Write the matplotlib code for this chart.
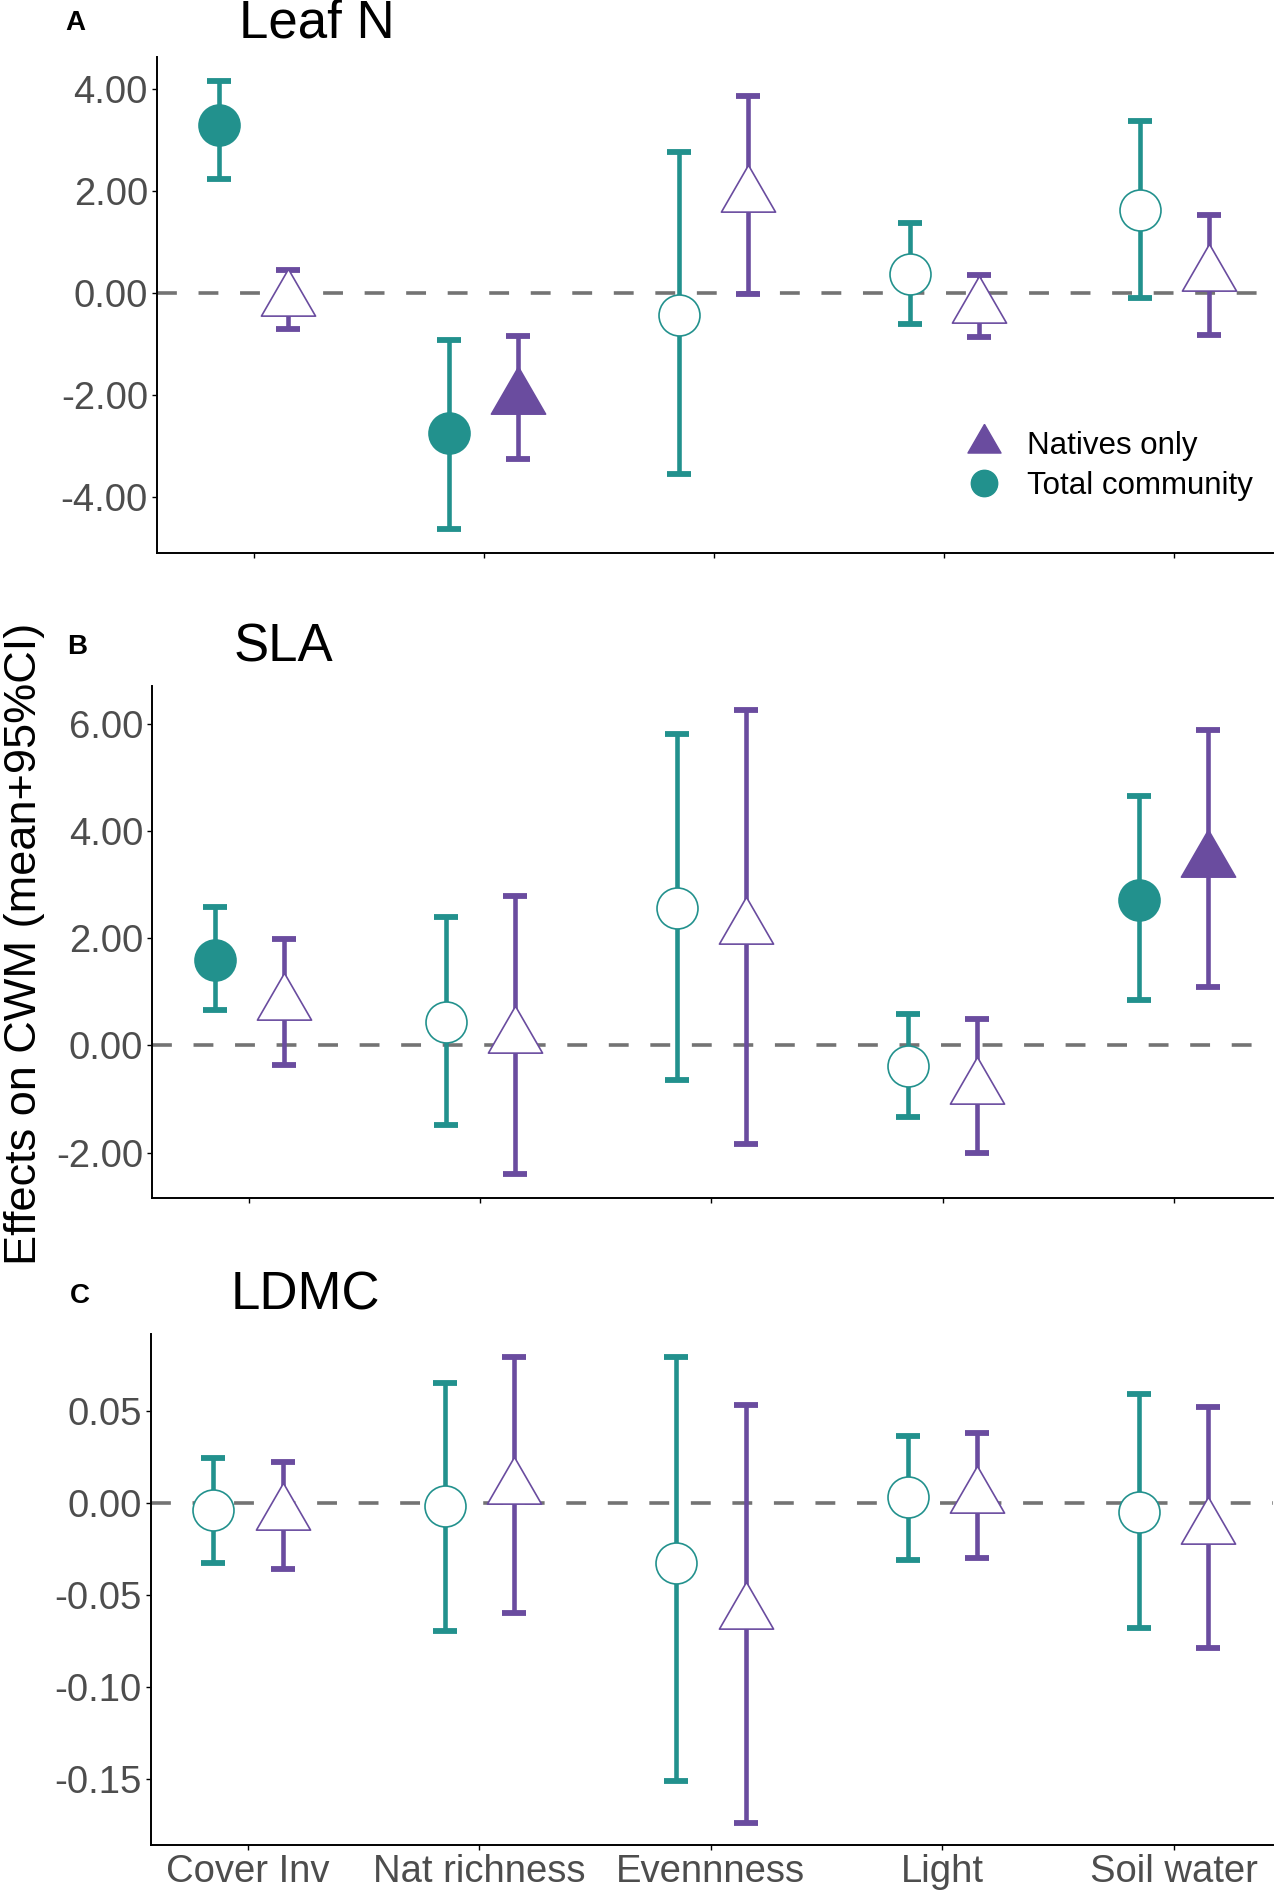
import numpy as np
import matplotlib
matplotlib.use("Agg")
import matplotlib.pyplot as plt
from matplotlib.lines import Line2D

plt.rcParams['font.family'] = ['Liberation Sans', 'DejaVu Sans']

# ---- data ----
categories = ['Cover Inv', 'Nat richness', 'Evennness', 'Light', 'Soil water']

# Leaf N
leafn_tot_mean = [3.28, -2.75, -0.44, 0.37, 1.62]
leafn_tot_lo = [2.23, -4.62, -3.55, -0.60, -0.10]
leafn_tot_hi = [4.14, -0.92, 2.75, 1.36, 3.36]
leafn_tot_sig = [1, 1, 0, 0, 0]
leafn_nat_mean = [-0.13, -2.05, 1.89, -0.28, 0.36]
leafn_nat_lo = [-0.71, -3.26, -0.02, -0.86, -0.82]
leafn_nat_hi = [0.44, -0.84, 3.86, 0.35, 1.52]
leafn_nat_sig = [0, 1, 0, 0, 0]

# SLA
sla_tot_mean = [1.60, 0.43, 2.56, -0.38, 2.71]
sla_tot_lo = [0.66, -1.49, -0.64, -1.34, 0.85]
sla_tot_hi = [2.58, 2.39, 5.81, 0.59, 4.65]
sla_tot_sig = [1, 0, 0, 0, 1]
sla_nat_mean = [0.77, 0.15, 2.19, -0.79, 3.43]
sla_nat_lo = [-0.37, -2.40, -1.84, -2.00, 1.09]
sla_nat_hi = [1.99, 2.78, 6.25, 0.49, 5.88]
sla_nat_sig = [0, 0, 0, 0, 1]

# LDMC
ldmc_tot_mean = [-0.004, -0.002, -0.033, 0.003, -0.005]
ldmc_tot_lo = [-0.033, -0.070, -0.151, -0.031, -0.068]
ldmc_tot_hi = [0.024, 0.065, 0.079, 0.036, 0.059]
ldmc_tot_sig = [0, 0, 0, 0, 0]
ldmc_nat_mean = [-0.006, 0.008, -0.060, 0.003, -0.014]
ldmc_nat_lo = [-0.036, -0.060, -0.174, -0.030, -0.079]
ldmc_nat_hi = [0.022, 0.079, 0.053, 0.038, 0.052]
ldmc_nat_sig = [0, 0, 0, 0, 0]

TEAL = '#22918D'
PURPLE = '#6A4C9F'
TICKCOL = '#4D4D4D'

# triangle centred on its centroid (like R's pch 24)
tri = [(0, 1), (-0.866, -0.5), (0.866, -0.5), (0, 1)]

panels = [
    dict(letter='A', title='Leaf N',
         tot=(leafn_tot_mean, leafn_tot_lo, leafn_tot_hi, leafn_tot_sig),
         nat=(leafn_nat_mean, leafn_nat_lo, leafn_nat_hi, leafn_nat_sig),
         ylim=(-5.09, 4.62), yticks=[-4, -2, 0, 2, 4],
         rect=[0.1229, 0.7085, 0.8741, 0.2615], tx=0.248, ty=0.9878, lx=0.0586),
    dict(letter='B', title='SLA',
         tot=(sla_tot_mean, sla_tot_lo, sla_tot_hi, sla_tot_sig),
         nat=(sla_nat_mean, sla_nat_lo, sla_nat_hi, sla_nat_sig),
         ylim=(-2.84, 6.70), yticks=[-2, 0, 2, 4, 6],
         rect=[0.1191, 0.3686, 0.8779, 0.2698], tx=0.222, ty=0.6588, lx=0.0605),
    dict(letter='C', title='LDMC',
         tot=(ldmc_tot_mean, ldmc_tot_lo, ldmc_tot_hi, ldmc_tot_sig),
         nat=(ldmc_nat_mean, ldmc_nat_lo, ldmc_nat_hi, ldmc_nat_sig),
         ylim=(-0.186, 0.0914), yticks=[-0.15, -0.10, -0.05, 0.0, 0.05],
         rect=[0.1181, 0.0274, 0.8789, 0.2692], tx=0.239, ty=0.3170, lx=0.0624),
]

fig = plt.figure(figsize=(12.77, 18.97), dpi=100)
x = np.arange(len(categories))
dodge = 0.15

for i, p in enumerate(panels):
    ax = fig.add_axes(p['rect'])
    ax.axhline(0, color='#737373', lw=2.6, ls=(0, (5.5, 6)), zorder=1)

    for grp, off, col, marker, ms_ in [('tot', -dodge, TEAL, 'o', 29.5),
                                        ('nat', dodge, PURPLE, tri, 45)]:
        mean, lo, hi, sig = [np.array(v, dtype=float) for v in p[grp]]
        xx = x + off
        ax.errorbar(xx, mean, yerr=[mean - lo, hi - mean], fmt='none',
                    ecolor=col, elinewidth=3.3, capsize=8.3, capthick=4.2,
                    zorder=2)
        for xi, m, s in zip(xx, mean, sig):
            ax.plot(xi, m, marker=marker, ms=ms_, ls='none',
                    mfc=col if s else 'white', mec=col,
                    mew=1.2, zorder=3)

    ax.set_xlim(-0.42, 4.43)
    ax.set_ylim(*p['ylim'])
    ax.set_yticks(p['yticks'])
    ax.set_yticklabels([f'{v:.2f}' for v in p['yticks']])
    ax.set_xticks(x)
    if i == 2:
        ax.set_xticklabels(categories)
    else:
        ax.set_xticklabels([])
    for side in ['top', 'right']:
        ax.spines[side].set_visible(False)
    for side in ['left', 'bottom']:
        ax.spines[side].set_linewidth(1.4)
    ax.tick_params(axis='both', labelsize=27.5, labelcolor=TICKCOL,
                   length=3.5, width=1.0, direction='out', pad=3)

    fig.text(p['tx'], p['ty'], p['title'], fontsize=38, ha='center', va='center')
    fig.text(p['lx'], p['ty'], p['letter'], fontsize=20, fontweight='bold',
             ha='center', va='center')

    if i == 0:
        handles = [Line2D([], [], marker=tri, ms=27.5, ls='none', mfc=PURPLE, mec=PURPLE),
                   Line2D([], [], marker='o', ms=19, ls='none', mfc=TEAL, mec=TEAL)]
        ax.legend(handles, ['Natives only', 'Total community'], loc='center left',
                  bbox_to_anchor=(0.728, 0.1756), frameon=False, fontsize=22.5,
                  handlelength=0.95, handletextpad=0.9, labelspacing=0.3,
                  borderpad=0, borderaxespad=0)

fig.text(0.0195, 0.5026, 'Effects on CWM (mean+95%CI)', rotation=90,
         fontsize=32.5, ha='center', va='center')

fig.savefig('out.png', dpi=100)
